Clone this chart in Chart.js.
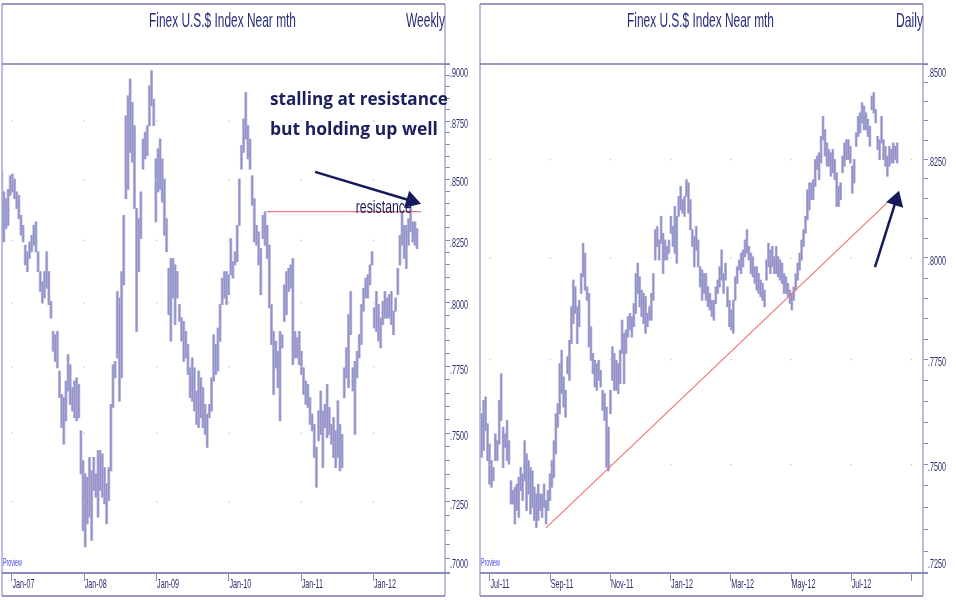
<!DOCTYPE html>
<html>
<head>
<meta charset="utf-8">
<script src="https://cdn.jsdelivr.net/npm/chart.js@4.4.1/dist/chart.umd.min.js"></script>
<style>
  body { margin: 0; background: #fff; width: 956px; height: 600px; overflow: hidden; position: relative; }
  canvas { position: absolute; top: 0; }
  #weekly { left: 0; }
  #daily { left: 478px; }
</style>
</head>
<body>
<canvas id="weekly" width="478" height="600"></canvas>
<canvas id="daily" width="478" height="600"></canvas>
<script>
// ---- Weekly panel data (x in years from Jan-07, one bar every ~1.5 weeks) ----
const weeklyStart = -0.142;
const weeklyStep = 0.02961;
const weeklyHigh = [
  .8538, .8449, .8421, .8460, .8517, .8524, .8503, .8449, .8435, .8352,
  .8311, .8230, .8203, .8243, .8270, .8311, .8325, .8203, .8123, .8083,
  .8123, .8203, .8123, .8005, .7887, .7874, .7887, .7734, .7645, .7633,
  .7696, .7797, .7758, .7671, .7696, .7708, .7683, .7509, .7399, .7351,
  .7339, .7411, .7363, .7411, .7351, .7436, .7436, .7424, .7374, .7315,
  .7374, .7608, .7758, .7771, .8044, .8018, .8123, .8352, .8773, .8860,
  .8933, .8831, .8730, .8380, .8338, .8449, .8673, .8702, .8730, .8903,
  .8970, .8845, .8588, .8631, .8673, .8588, .8503, .8338, .8136, .8176,
  .8176, .8150, .8123, .7992, .7940, .7926, .7887, .7836, .7746, .7784,
  .7746, .7658, .7734, .7708, .7671, .7608, .7571, .7608, .7708, .7874,
  .7836, .7900, .7992, .8097, .8123, .8123, .8110, .8257, .8163, .8203,
  .8311, .8503, .8645, .8759, .8874, .8730, .8673, .8517, .8421, .8311,
  .8284, .8216, .8352, .8366, .8311, .8230, .7992, .7887, .7849, .7810,
  .7887, .7874, .8070, .8123, .8136, .8150, .8176, .7887, .7862, .7887,
  .7810, .7746, .7696, .7683, .7633, .7571, .7533, .7448, .7583, .7658,
  .7583, .7608, .7683, .7596, .7533, .7558, .7509, .7621, .7533, .7496,
  .7746, .7823, .7952, .8044, .7746, .7771, .7810, .7874, .7992, .8057,
  .8097, .8110, .8150, .8203, .7979, .8044, .7992, .7939, .8005, .8044,
  .8018, .8031, .8044, .7966, .8018, .8136, .8270, .8366, .8311, .8311,
  .8338, .8380, .8325, .8325, .8297
];
const weeklyLow = [
  .8250, .8243, .8297, .8311, .8435, .8449, .8421, .8380, .8338, .8271,
  .8243, .8150, .8123, .8176, .8203, .8230, .8203, .8123, .8044, .7998,
  .8018, .8057, .7992, .7939, .7810, .7771, .7746, .7633, .7521, .7460,
  .7546, .7658, .7608, .7583, .7558, .7546, .7558, .7351, .7148, .7091,
  .7172, .7196, .7114, .7291, .7267, .7196, .7291, .7267, .7243, .7172,
  .7255, .7362, .7596, .7708, .7784, .7620, .7708, .8070, .8421, .8460,
  .8616, .8574, .8380, .7887, .8123, .8257, .8545, .8588, .8602, .8730,
  .8816, .8730, .8325, .8449, .8460, .8407, .8270, .8203, .7952, .7849,
  .8018, .7913, .8018, .7926, .7849, .7771, .7784, .7721, .7633, .7620,
  .7583, .7533, .7521, .7558, .7521, .7496, .7448, .7558, .7583, .7696,
  .7721, .7734, .7849, .7992, .8018, .7992, .8031, .8110, .8097, .8150,
  .8163, .8311, .8545, .8616, .8673, .8588, .8545, .8394, .8243, .8230,
  .8150, .8031, .8257, .8230, .8176, .7979, .7836, .7645, .7746, .7671,
  .7546, .7823, .7926, .7952, .8044, .8057, .7758, .7784, .7784, .7758,
  .7721, .7645, .7608, .7596, .7533, .7509, .7411, .7303, .7472, .7496,
  .7374, .7521, .7484, .7496, .7460, .7411, .7374, .7411, .7362, .7374,
  .7633, .7708, .7671, .7874, .7658, .7496, .7708, .7784, .7836, .7966,
  .8018, .8018, .8070, .8150, .7900, .7887, .7849, .7823, .7913, .7939,
  .7939, .7939, .7913, .7874, .7966, .8031, .8150, .8230, .8176, .8136,
  .8230, .8284, .8243, .8230, .8216
];
const weeklyTicks = [0, 1, 2, 3, 4, 5];
const weeklyTickLabels = ['Jan-07', 'Jan-08', 'Jan-09', 'Jan-10', 'Jan-11', 'Jan-12'];
const weeklyPriceTicks = [0.9000, 0.8750, 0.8500, 0.8250, 0.8000, 0.7750, 0.7500, 0.7250, 0.7000];
const resistanceLevel = 0.8367;
const resistanceSpan = [3.527, 5.657];

// ---- Daily panel data (x in months from Jul-11) ----
const dailyStart = -0.276;
const dailyStep = 0.0648;
const dailyHigh = [
  .7620, .7652, .7660, .7596, .7548, .7509, .7493, .7572, .7556, .7652,
  .7716, .7588, .7572, .7604, .7556, .7462, .7439, .7447, .7454, .7470,
  .7493, .7478, .7556, .7525, .7509, .7493, .7485, .7447, .7431, .7454,
  .7431, .7431, .7454, .7416, .7439, .7478, .7509, .7556, .7620, .7644,
  .7740, .7773, .7708, .7676, .7757, .7797, .7879, .7945, .7928, .7879,
  .7895, .7961, .8037, .8012, .7928, .7912, .7830, .7765, .7748, .7740,
  .7748, .7724, .7676, .7668, .7636, .7588, .7676, .7781, .7765, .7748,
  .7740, .7773, .7846, .7814, .7822, .7855, .7863, .7855, .7887, .7961,
  .7987, .7953, .7920, .7912, .7904, .7863, .7879, .7912, .7961, .8071,
  .8079, .8045, .8105, .8062, .8045, .8029, .8045, .8105, .8079, .8130,
  .8105, .8155, .8181, .8147, .8155, .8198, .8190, .8147, .8071, .8054,
  .8079, .8045, .7978, .7970, .7961, .7961, .7928, .7912, .7895, .7895,
  .7928, .7945, .7978, .8020, .7961, .7987, .7928, .7895, .7871, .7895,
  .7953, .7978, .7995, .8012, .8020, .8045, .8071, .8029, .8012, .8003,
  .7978, .7978, .7961, .7945, .7937, .7920, .7995, .8037, .8020, .8029,
  .8003, .8029, .8003, .7995, .7987, .7961, .7953, .7937, .7920, .7912,
  .7928, .7961, .7987, .8012, .8045, .8071, .8105, .8172, .8190, .8190,
  .8198, .8250, .8259, .8267, .8310, .8362, .8327, .8293, .8276, .8267,
  .8276, .8250, .8216, .8181, .8190, .8259, .8293, .8301, .8301, .8284,
  .8233, .8250, .8319, .8362, .8371, .8398, .8389, .8371, .8354, .8336,
  .8415, .8424, .8380, .8310, .8301, .8362, .8301, .8284, .8259, .8284,
  .8276, .8293, .8284, .8293
];
const dailyLow = [
  .7517, .7533, .7580, .7509, .7454, .7447, .7462, .7509, .7509, .7548,
  .7604, .7493, .7540, .7509, .7501, .7408, .7408, .7362, .7393, .7377,
  .7439, .7416, .7462, .7393, .7431, .7385, .7400, .7370, .7354, .7370,
  .7393, .7377, .7400, .7362, .7393, .7416, .7447, .7470, .7525, .7588,
  .7620, .7668, .7636, .7612, .7716, .7700, .7789, .7838, .7863, .7789,
  .7830, .7912, .7953, .7920, .7895, .7781, .7748, .7716, .7684, .7676,
  .7700, .7684, .7628, .7604, .7493, .7485, .7620, .7700, .7676, .7676,
  .7668, .7692, .7765, .7692, .7765, .7805, .7822, .7805, .7830, .7863,
  .7912, .7879, .7855, .7838, .7814, .7830, .7846, .7846, .7895, .7995,
  .8029, .7995, .8037, .7961, .7995, .7995, .8012, .8062, .8029, .8012,
  .7987, .8105, .8121, .8113, .8105, .8155, .8113, .8071, .8029, .7978,
  .8020, .7978, .7928, .7895, .7912, .7895, .7879, .7871, .7855, .7846,
  .7887, .7912, .7928, .7945, .7912, .7945, .7879, .7830, .7822, .7814,
  .7895, .7937, .7970, .7961, .7978, .8003, .8012, .7995, .7961, .7953,
  .7937, .7920, .7912, .7904, .7895, .7879, .7945, .7978, .7961, .7978,
  .7961, .7961, .7953, .7945, .7937, .7912, .7912, .7904, .7887, .7871,
  .7895, .7920, .7945, .7970, .7995, .8029, .8062, .8096, .8121, .8147,
  .8147, .8181, .8224, .8198, .8241, .8301, .8259, .8233, .8233, .8207,
  .8216, .8198, .8130, .8130, .8147, .8216, .8233, .8250, .8250, .8241,
  .8164, .8190, .8284, .8310, .8319, .8345, .8327, .8327, .8310, .8284,
  .8380, .8371, .8345, .8276, .8250, .8293, .8250, .8233, .8207, .8233,
  .8241, .8241, .8250, .8241
];
const dailyTicks = [0, 2, 4, 6, 8, 10, 12, 14];
const dailyTickLabels = ['Jul-11', 'Sep-11', 'Nov-11', 'Jan-12', 'Mar-12', 'May-12', 'Jul-12', ''];
const dailyPriceTicks = [0.8500, 0.8250, 0.8000, 0.7750, 0.7500, 0.7250];
const trendX = [1.86, 13.19];
const trendY = [0.7353, 0.8139];

const TITLE = 'Finex U.S.$ Index Near mth';
const NAVY = '#272c7c';
const ARROW = '#141a5c';
const BAR_FILL = '#bebee2';
const BAR_STROKE = '#9191c8';
const FRAME = '#7a7ab4';
const SQUASH = 0.53;

// Text that is squeezed horizontally like the original chart fonts
function squashText(ctx, text, x, y, size, color, align) {
  ctx.save();
  ctx.font = size + 'px "Liberation Sans", Arial, sans-serif';
  ctx.fillStyle = color;
  ctx.textBaseline = 'middle';
  ctx.textAlign = align || 'left';
  ctx.translate(x, y);
  ctx.scale(SQUASH, 1);
  ctx.fillText(text, 0, 0);
  ctx.restore();
}

// Text stretched to a given width
function fitText(ctx, text, x, y, font, color, width, align) {
  ctx.save();
  ctx.font = font;
  ctx.fillStyle = color;
  ctx.textBaseline = 'alphabetic';
  ctx.textAlign = align || 'left';
  const sx = width / ctx.measureText(text).width;
  ctx.translate(x, y);
  ctx.scale(sx, 1);
  ctx.fillText(text, 0, 0);
  ctx.restore();
}

function drawArrow(ctx, x1, y1, x2, y2) {
  const len = 15, half = 9;
  const dx = x2 - x1, dy = y2 - y1;
  const d = Math.hypot(dx, dy);
  const ux = dx / d, uy = dy / d;
  const bx = x2 - ux * len, by = y2 - uy * len;
  ctx.save();
  ctx.strokeStyle = ARROW;
  ctx.fillStyle = ARROW;
  ctx.lineWidth = 2.5;
  ctx.beginPath();
  ctx.moveTo(x1, y1);
  ctx.lineTo(bx + ux * 2, by + uy * 2);
  ctx.stroke();
  ctx.beginPath();
  ctx.moveTo(x2, y2);
  ctx.lineTo(bx - uy * half, by + ux * half);
  ctx.lineTo(bx + uy * half, by - ux * half);
  ctx.closePath();
  ctx.fill();
  ctx.restore();
}

const panelPlugin = {
  id: 'panel',
  afterDraw(chart, args, opts) {
    const { ctx, chartArea: a } = chart;
    const xs = chart.scales.x, ys = chart.scales.y;
    const top = 4, bottom = 596;

    ctx.save();
    // frame
    ctx.strokeStyle = '#a8a8d4';
    ctx.lineWidth = 1.5;
    ctx.beginPath();
    ctx.moveTo(a.left, top); ctx.lineTo(a.left, bottom);
    ctx.moveTo(a.right, top); ctx.lineTo(a.right, bottom);
    ctx.stroke();
    ctx.strokeStyle = FRAME;
    ctx.beginPath();
    ctx.moveTo(a.left, top); ctx.lineTo(a.right, top);
    ctx.moveTo(a.left, a.top); ctx.lineTo(a.right + 5, a.top);
    ctx.moveTo(a.left, bottom); ctx.lineTo(a.right, bottom);
    ctx.stroke();
    ctx.strokeStyle = '#8c8cbc';
    ctx.lineWidth = 2;
    ctx.beginPath();
    ctx.moveTo(a.left, a.bottom); ctx.lineTo(a.right + 5, a.bottom);
    ctx.stroke();

    // faint grid dots
    ctx.fillStyle = '#c4c4c4';
    opts.xTicks.forEach(xv => {
      const px = xs.getPixelForValue(xv);
      opts.yTicks.forEach(yv => {
        const py = ys.getPixelForValue(yv);
        if (py > a.top + 2 && py < a.bottom - 2) ctx.fillRect(px - 0.6, py - 0.6, 1.3, 1.3);
      });
    });
    ctx.restore();

    // header
    fitText(ctx, TITLE, (a.left + a.right) / 2 - 1, 27, '21px "Liberation Sans", Arial, sans-serif', NAVY, 147, 'center');
    fitText(ctx, opts.period, a.right, 27, '21px "Liberation Sans", Arial, sans-serif', NAVY, opts.periodWidth, 'right');

    // price labels
    opts.yTicks.forEach(v => {
      const py = Math.min(564, Math.max(73, ys.getPixelForValue(v) + 3));
      squashText(ctx, '.' + Math.round(v * 10000), a.right + 5, py, 13.5, '#2a2e6e');
    });
    // date labels
    opts.xTicks.forEach((v, i) => {
      squashText(ctx, opts.xLabels[i], xs.getPixelForValue(v) + 0.5, 584, 13.5, '#2a2e6e');
    });
    squashText(ctx, 'Proview', a.left + 1, 563, 10, '#4646e6');

    if (opts.notes) opts.notes(chart);
  }
};

function weeklyNotes(chart) {
  const { ctx } = chart;
  const xs = chart.scales.x, ys = chart.scales.y;
  const X = v => xs.getPixelForValue(v), Y = v => ys.getPixelForValue(v);
  const bold = 'bold 18px "Open Sans", "Noto Sans", sans-serif';
  fitText(ctx, 'stalling at resistance', X(3.568), Y(0.8819), bold, '#1b1f5e', 178);
  fitText(ctx, 'but holding up well', X(3.568), Y(0.8690), bold, '#1b1f5e', 168);
  fitText(ctx, 'resistance', X(4.755), Y(0.8361), '19px "Liberation Sans", Arial, sans-serif', '#1d1d55', 56);
  drawArrow(ctx, X(4.191), Y(0.8533), X(5.657), Y(0.8400));
}

function dailyNotes(chart) {
  const xs = chart.scales.x, ys = chart.scales.y;
  drawArrow(chart.ctx, xs.getPixelForValue(12.79), ys.getPixelForValue(0.7977),
    xs.getPixelForValue(13.59), ys.getPixelForValue(0.8170));
}

function makePanel(id, cfg) {
  const bars = cfg.high.map((h, i) => ({ x: cfg.start + i * cfg.step, y: [cfg.low[i], h] }));
  const minor = [];
  for (let v = Math.round(cfg.yMin * 1000); v <= Math.round(cfg.yMax * 1000); v += 5) minor.push(v / 1000);

  return new Chart(document.getElementById(id), {
    type: 'bar',
    data: {
      datasets: [
        {
          type: 'line',
          data: cfg.line,
          borderColor: '#f27474',
          borderWidth: 1.2,
          pointRadius: 0,
          fill: false
        },
        {
          // darker high-low stroke of each bar
          type: 'bar',
          data: bars,
          backgroundColor: BAR_STROKE,
          borderWidth: 0,
          barThickness: 0.9,
          grouped: false
        },
        {
          // light body behind the strokes
          type: 'bar',
          data: bars,
          backgroundColor: BAR_FILL,
          borderWidth: 0,
          barThickness: cfg.barWidth,
          grouped: false
        }
      ]
    },
    options: {
      responsive: false,
      animation: false,
      devicePixelRatio: 1,
      layout: { padding: { left: 2, top: 64, right: 0, bottom: 4 } },
      scales: {
        x: {
          type: 'linear',
          min: cfg.xMin,
          max: cfg.xMax,
          offset: false,
          afterBuildTicks: s => { s.ticks = cfg.xTicks.map(v => ({ value: v })); },
          afterFit: s => { s.height = 23; },
          ticks: { display: false },
          grid: { offset: false, drawOnChartArea: false, tickLength: 8, color: '#8888bc' },
          border: { display: false }
        },
        y: {
          type: 'logarithmic',
          position: 'right',
          min: cfg.yMin,
          max: cfg.yMax,
          afterBuildTicks: s => { s.ticks = minor.map(v => ({ value: v })); },
          afterFit: s => { s.width = 33; },
          ticks: { display: false },
          grid: { drawOnChartArea: false, tickLength: 5, color: '#8888bc' },
          border: { display: false }
        }
      },
      plugins: {
        legend: { display: false },
        tooltip: { enabled: false },
        panel: {
          period: cfg.period,
          periodWidth: cfg.periodWidth,
          xTicks: cfg.xTicks,
          xLabels: cfg.xLabels,
          yTicks: cfg.yTicks,
          notes: cfg.notes
        }
      }
    },
    plugins: [panelPlugin]
  });
}

makePanel('weekly', {
  high: weeklyHigh, low: weeklyLow, start: weeklyStart, step: weeklyStep,
  xMin: -0.138, xMax: 5.989, xTicks: weeklyTicks, xLabels: weeklyTickLabels,
  yMin: 0.70, yMax: 0.90, yTicks: weeklyPriceTicks,
  line: resistanceSpan.map(x => ({ x, y: resistanceLevel })),
  period: 'Weekly', periodWidth: 39, notes: weeklyNotes, barWidth: 2.4
});

makePanel('daily', {
  high: dailyHigh, low: dailyLow, start: dailyStart, step: dailyStep,
  xMin: -0.332, xMax: 14.385, xTicks: dailyTicks, xLabels: dailyTickLabels,
  yMin: 0.725, yMax: 0.85, yTicks: dailyPriceTicks,
  line: trendX.map((x, i) => ({ x, y: trendY[i] })),
  period: 'Daily', periodWidth: 27, notes: dailyNotes, barWidth: 2.2
});
</script>
</body>
</html>
